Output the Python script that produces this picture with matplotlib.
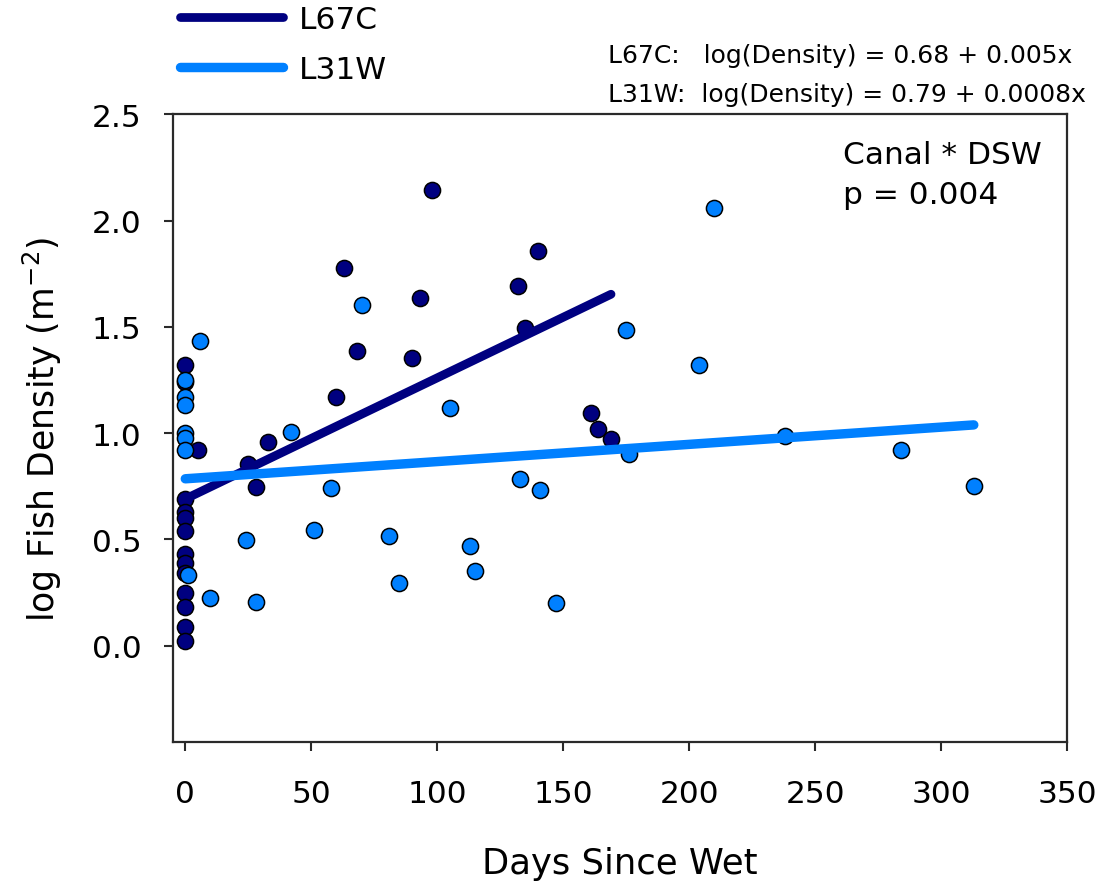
import numpy as np
import matplotlib
matplotlib.use("Agg")
import matplotlib.pyplot as plt

plt.rcParams['font.family'] = ['DejaVu Sans']

# L67C canal (dark navy points)
l67c_days = [0, 0, 0, 0, 0, 0, 0, 0, 0, 0, 0, 0, 0,
             5, 25, 28, 33, 60, 63, 68, 90, 93, 98, 132, 135, 140, 161, 164, 169]
l67c_vals = [1.32, 1.24, 0.69, 0.63, 0.60, 0.54, 0.43, 0.39, 0.34, 0.25, 0.18, 0.09, 0.02,
             0.92, 0.855, 0.745, 0.957, 1.168, 1.777, 1.388, 1.353, 1.637, 2.143, 1.690,
             1.493, 1.855, 1.093, 1.019, 0.972]

# L31W canal (light blue points)
l31w_days = [0, 0, 0, 0, 0, 0, 1, 6, 10, 24, 28, 42, 51, 58, 70, 81, 85, 105, 113, 115,
             133, 141, 147, 175, 176, 204, 210, 238, 284, 313]
l31w_vals = [1.25, 1.17, 1.13, 1.00, 0.975, 0.92, 0.33, 1.432, 0.224, 0.498, 0.205, 1.007,
             0.544, 0.740, 1.603, 0.515, 0.293, 1.117, 0.470, 0.351, 0.784, 0.732, 0.199,
             1.486, 0.902, 1.322, 2.059, 0.985, 0.920, 0.753]

# fitted lines as drawn (intercept, slope)
fit_l67c = [0.69, 0.0057]
fit_l31w = [0.785, 0.00081]

dark = '#000080'
light = '#0080ff'
W, H = 1114, 887

fig = plt.figure(figsize=(W / 100, H / 100), dpi=100)
ax = fig.add_axes([172.7 / W, 1 - 742.7 / H, (1067 - 172.7) / W, (742.7 - 115.3) / H])

ax.scatter(l67c_days, l67c_vals, s=135, color=dark, edgecolor='black', linewidth=1.1, zorder=2)
ax.scatter(l31w_days, l31w_vals, s=135, color=light, edgecolor='black', linewidth=1.1, zorder=3)

xd = np.array([0, max(l67c_days)])
ax.plot(xd, fit_l67c[0] + fit_l67c[1] * xd, color=dark, lw=6.3, solid_capstyle='round',
        zorder=4, label='L67C')
xl = np.array([0, max(l31w_days)])
ax.plot(xl, fit_l31w[0] + fit_l31w[1] * xl, color=light, lw=6.8, solid_capstyle='round',
        zorder=5, label='L31W')

ax.set_xlim(-5, 350)
ax.set_ylim(-0.452, 2.5)
ax.set_xticks(np.arange(0, 351, 50))
ax.set_yticks(np.arange(0, 2.51, 0.5))
ax.set_yticklabels(['%.1f' % v for v in np.arange(0, 2.51, 0.5)])

for sp in ax.spines.values():
    sp.set_linewidth(1.6)
    sp.set_color('#2a2a2a')
ax.tick_params(axis='both', direction='out', length=6.5, width=1.5, color='#2a2a2a',
               labelsize=22.5)
ax.tick_params(axis='x', pad=20)
ax.tick_params(axis='y', pad=16)

ax.set_xlabel('Days Since Wet', fontsize=25.5, labelpad=28)
ax.set_ylabel('log Fish Density (m$^{\\mathregular{-2}}$)', fontsize=25, labelpad=20)

fig.legend(loc='upper left', bbox_to_anchor=(180 / W, 1 - 6 / H), frameon=False,
           fontsize=22.5, handlelength=3.3, handletextpad=0.5, labelspacing=0.68,
           borderpad=0, borderaxespad=0)

fig.text(608 / W, 1 - 56 / H, 'L67C:   log(Density) = 0.68 + 0.005x', fontsize=18,
         va='center', ha='left')
fig.text(608 / W, 1 - 95 / H, 'L31W:  log(Density) = 0.79 + 0.0008x', fontsize=18,
         va='center', ha='left')
fig.text(843 / W, 1 - 155 / H, 'Canal * DSW', fontsize=22.5, va='center', ha='left')
fig.text(843 / W, 1 - 196 / H, 'p = 0.004', fontsize=22.5, va='center', ha='left')

fig.savefig('out.png', dpi=100)
